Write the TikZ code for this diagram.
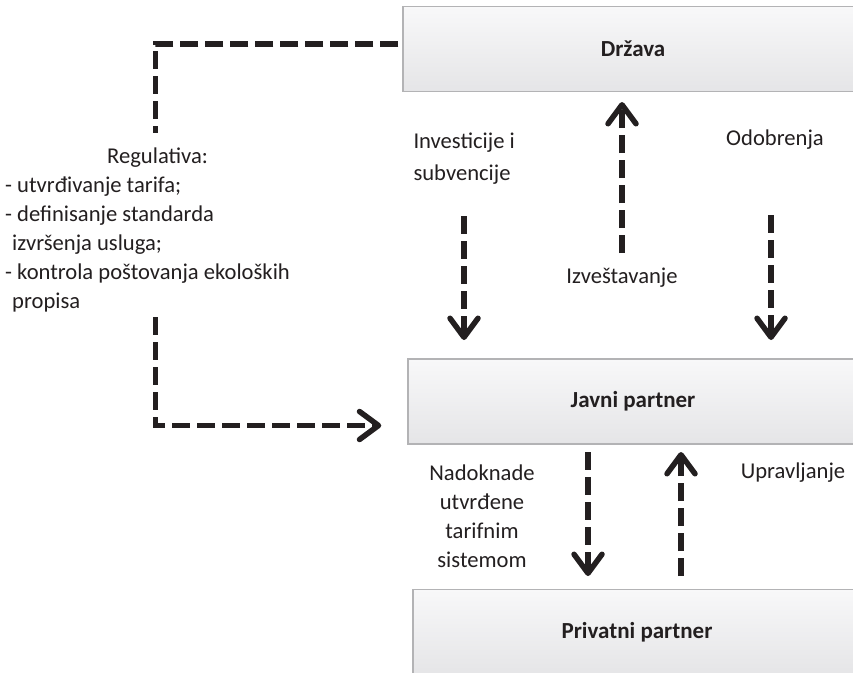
\documentclass[tikz,border=0pt]{standalone}
\usepackage{fontspec}
\setmainfont{Carlito}
\usetikzlibrary{arrows.meta}

\definecolor{ink}{HTML}{231F20}
\definecolor{boxtop}{HTML}{F8F8F9}
\definecolor{boxbot}{HTML}{E5E5E7}
\definecolor{boxline}{HTML}{B3B3B5}

\begin{document}
\begin{tikzpicture}[x=1pt, y=-1pt,
        font=\fontsize{22.6}{29}\selectfont, text=ink,
        party/.style={draw=boxline, line width=1.5pt, top color=boxtop, bottom color=boxbot,
                      minimum height=85pt, font=\fontsize{23}{29}\selectfont\bfseries},
        dline/.style={draw=ink, line width=5.5pt, dash pattern=on 18pt off 7pt},
        flow/.style={dline, -{Straight Barb[length=19pt, width=28pt, round]}}]
        \clip (0,0) rectangle (853,672);
        \fill [white] (0,0) rectangle (853,672);
        % actors
        \node [party, minimum width=460pt] (DR) at (633, 49) {Država};
        \node [party, minimum width=450pt] (JP) at (633, 401.5) {Javni partner};
        \node [party, minimum width=448pt] (PP) at (637, 632) {Privatni partner};
        % labels
        \node [anchor=west, align=left, inner sep=0pt] (REG) at (5, 230) {\hspace*{102pt}Regulativa:\\- utvrđivanje tarifa;\\- definisanje standarda\\\hspace*{7pt}izvršenja usluga;\\- kontrola poštovanja ekoloških\\\hspace*{7pt}propisa};
        \node [anchor=west, align=left, font=\fontsize{22.6}{32}\selectfont] (INV) at (410, 159) {Investicije i\\subvencije};
        \node (ODO) at (775, 140) {Odobrenja};
        \node (IZV) at (622, 278) {Izveštavanje};
        \node [align=center] (NAD) at (482, 516.5) {Nadoknade\\utvrđene\\tarifnim\\sistemom};
        \node (UPR) at (793, 473) {Upravljanje};
        % arrow ends
        \coordinate (I1) at (464, 216); \coordinate (I2) at (464, 340);
        \coordinate (Z1) at (622, 253); \coordinate (Z2) at (622, 102);
        \coordinate (O1) at (771, 215); \coordinate (O2) at (771, 340);
        \coordinate (N1) at (588, 452); \coordinate (N2) at (588, 576);
        \coordinate (U1) at (681, 576); \coordinate (U2) at (681, 452);
        \draw [dline] ([xshift=-4pt, yshift=5pt]DR.west) -| ([xshift=8pt, yshift=15pt]REG.north);
        \draw [flow] ([xshift=8pt, yshift=-5pt]REG.south) |- ([xshift=-26pt, yshift=-24pt]JP.west);
        \draw [flow] (I1) -- (I2);
        \draw [flow] (Z1) -- (Z2);
        \draw [flow] (O1) -- (O2);
        \draw [flow] (N1) -- (N2);
        \draw [flow] (U1) -- (U2);
\end{tikzpicture}
\end{document}
